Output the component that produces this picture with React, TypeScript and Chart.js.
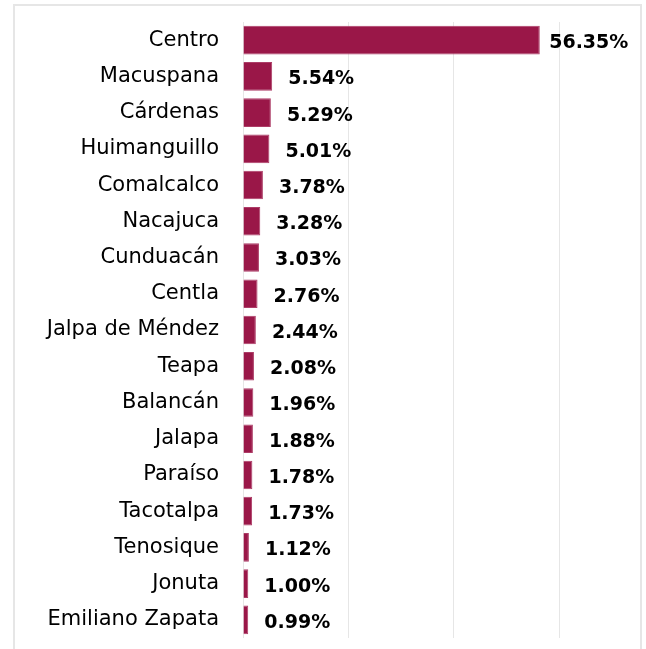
import React, { useEffect, useRef } from "react";
import { Chart, registerables } from "chart.js";

Chart.register(...registerables);

const municipios: string[] = [
  "Centro",
  "Macuspana",
  "Cárdenas",
  "Huimanguillo",
  "Comalcalco",
  "Nacajuca",
  "Cunduacán",
  "Centla",
  "Jalpa de Méndez",
  "Teapa",
  "Balancán",
  "Jalapa",
  "Paraíso",
  "Tacotalpa",
  "Tenosique",
  "Jonuta",
  "Emiliano Zapata",
];

const porcentajes: number[] = [
  56.35, 5.54, 5.29, 5.01, 3.78, 3.28, 3.03, 2.76, 2.44, 2.08, 1.96, 1.88, 1.78, 1.73, 1.12, 1.0, 0.99,
];

const xTicks: number[] = [0, 20, 40, 60];

const valueLabels = {
  id: "valueLabels",
  afterDatasetsDraw(chart: any) {
    const ctx = chart.ctx;
    const meta = chart.getDatasetMeta(0);
    ctx.save();
    ctx.font = "bold 19px 'DejaVu Sans'";
    ctx.fillStyle = "#000000";
    ctx.textAlign = "center";
    ctx.textBaseline = "middle";
    meta.data.forEach((bar: any, i: number) => {
      const v = porcentajes[i];
      ctx.fillText(v.toFixed(2) + "%", bar.x + 49, bar.y + 3);
    });
    ctx.restore();
  },
};

export default function App() {
  const ref = useRef<HTMLCanvasElement | null>(null);

  useEffect(() => {
    if (!ref.current) return;
    const chart = new Chart(ref.current, {
      type: "bar",
      data: {
        labels: municipios,
        datasets: [
          {
            data: porcentajes,
            backgroundColor: "#9a1748",
            borderColor: "#ad3d67",
            borderWidth: 1,
            borderSkipped: "start",
            categoryPercentage: 1,
            barPercentage: 0.79,
          },
        ],
      },
      options: {
        indexAxis: "y",
        responsive: false,
        animation: false,
        devicePixelRatio: 1,
        layout: { padding: { top: 22, bottom: 11, right: 87, left: 0 } },
        plugins: {
          legend: { display: false },
          tooltip: { enabled: false },
        },
        scales: {
          x: {
            min: xTicks[0],
            max: xTicks[xTicks.length - 1],
            afterBuildTicks: (scale: any) => {
              scale.ticks = xTicks.map((v) => ({ value: v }));
            },
            afterFit: (scale: any) => {
              scale.height = 0;
              scale.paddingLeft = 0;
              scale.paddingRight = 0;
            },
            ticks: { display: false },
            grid: { color: "#e6e6e6", lineWidth: 1, drawTicks: false },
            border: { display: false },
          },
          y: {
            afterFit: (scale: any) => {
              scale.width = 243;
              scale.paddingTop = 0;
              scale.paddingBottom = 0;
            },
            ticks: {
              autoSkip: false,
              padding: 24,
              color: "#000000",
              font: { family: "'DejaVu Sans'", size: 21 },
            },
            grid: { display: false, drawTicks: false },
            border: { display: false },
          },
        },
      },
      plugins: [valueLabels],
    });
    return () => chart.destroy();
  }, []);

  return (
    <div style={{ position: "fixed", left: 0, top: 0, width: 646, height: 649, background: "#ffffff", overflow: "hidden" }}>
      <div
        style={{
          position: "absolute",
          left: 13,
          top: 4,
          width: 625,
          height: 700,
          borderTop: "2px solid #e6e6e6",
          borderLeft: "2px solid #e6e6e6",
          borderRight: "2px solid #e6e6e6",
        }}
      />
      <canvas ref={ref} width={646} height={649} style={{ position: "absolute", left: 0, top: 0 }} />
    </div>
  );
}
